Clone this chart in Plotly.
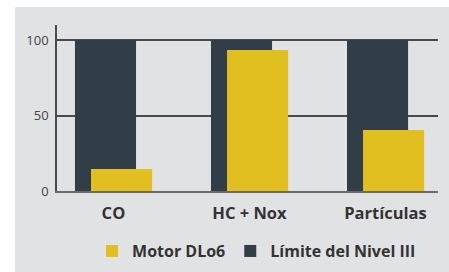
import plotly.graph_objects as go

categories = ["CO", "HC + Nox", "Partículas"]
motor_dlo6 = [14.5, 93.5, 40.5]
limite_nivel_iii = [100, 100, 100]
y_ticks = [0, 50, 100]

YELLOW = "#e2bf20"
DARK = "#323e47"
BG = "#e1e2e4"
TXT = "#333333"
FONT = "Open Sans"

fig = go.Figure()
fig.add_trace(go.Bar(
    x=categories, y=limite_nivel_iii, name="Límite del Nivel III",
    marker=dict(color=DARK, line=dict(width=0)),
    width=0.449, offset=-0.283, legendrank=2,
))
fig.add_trace(go.Bar(
    x=categories, y=motor_dlo6, name="Motor DLo6",
    marker=dict(color=YELLOW, line=dict(width=0)),
    width=0.449, offset=-0.165, legendrank=1,
))

fig.update_layout(
    width=449, height=272,
    margin=dict(l=57, r=11, t=25, b=81, autoexpand=False),
    barmode="overlay",
    paper_bgcolor="white",
    plot_bgcolor=BG,
    font=dict(family=FONT, color=TXT),
    showlegend=True,
    legend=dict(
        orientation="h", xref="container", yref="container",
        x=0.205, xanchor="left", y=0.077, yanchor="middle",
        font=dict(family=FONT, size=16, color=TXT, weight="bold"),
        bgcolor="rgba(0,0,0,0)", itemwidth=30, traceorder="normal",
    ),
    xaxis=dict(
        range=[-0.415, 2.386], showgrid=False, showline=True,
        linecolor="#6b6b6b", linewidth=2, ticks="", automargin=False,
        ticklabelstandoff=6,
        tickfont=dict(family=FONT, size=16.5, color=TXT, weight="bold"),
        fixedrange=True,
    ),
    yaxis=dict(
        range=[0, 110], tickvals=y_ticks, showgrid=True, gridcolor="#4a4a4a",
        gridwidth=1.5, showline=True, linecolor="#4a4a4a", linewidth=1.5,
        zeroline=False, ticks="", ticklabelstandoff=4, automargin=False,
        tickfont=dict(family=FONT, size=13, color="#444444"),
        fixedrange=True,
    ),
    shapes=[dict(
        type="rect", xref="paper", yref="paper",
        x0=-0.1102, x1=1.03, y0=-0.49, y1=1.108,
        fillcolor=BG, line=dict(width=0), layer="below",
    )],
)

fig.write_html(
    "out.html",
    config={"displayModeBar": False},
    post_script="document.body.style.margin='0';document.body.style.overflow='hidden';",
)
